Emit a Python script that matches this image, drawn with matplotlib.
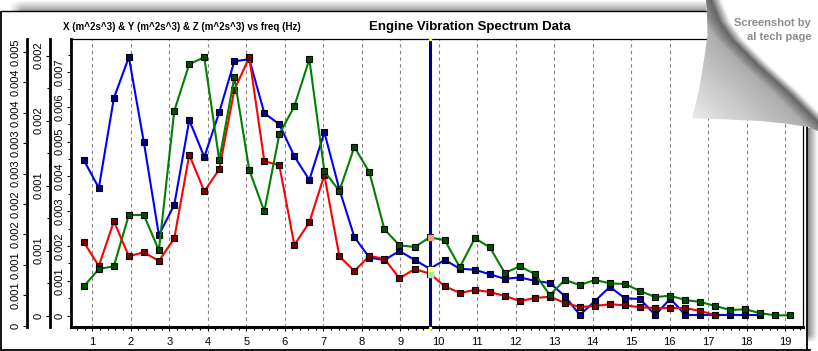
import numpy as np
import matplotlib
matplotlib.use("Agg")
import matplotlib.pyplot as plt
from matplotlib.patches import Polygon

plt.rcParams['font.family'] = ['Liberation Sans', 'DejaVu Sans']

# ---------------- data ----------------
freq = [0.78, 1.17, 1.56, 1.95, 2.34, 2.73, 3.13, 3.52, 3.91, 4.30, 4.69, 5.08,
        5.47, 5.86, 6.25, 6.64, 7.03, 7.42, 7.81, 8.20, 8.59, 8.98, 9.38, 9.77,
        10.16, 10.55, 10.94, 11.33, 11.72, 12.11, 12.50, 12.89, 13.28, 13.67,
        14.06, 14.45, 14.84, 15.23, 15.63, 16.02, 16.41, 16.80, 17.19, 17.58,
        17.97, 18.36, 18.75, 19.14]

x_amp = np.array([4.47, 3.67, 6.25, 7.43, 4.98, 2.32, 3.18, 5.62, 4.56, 5.85,
                  7.31, 7.37, 5.82, 5.50, 4.58, 3.90, 5.27, 3.63, 2.26, 1.67,
                  1.60, 1.86, 1.60, 1.35, 1.60, 1.35, 1.32, 1.19, 1.06, 1.10,
                  1.00, 0.94, 0.56, 0.02, 0.42, 0.83, 0.50, 0.48, 0.02, 0.49,
                  0.02, 0.02, 0.02, 0.02, 0.02, 0.02]) * 1e-3
y_amp = np.array([0.565, 0.382, 0.726, 0.457, 0.488, 0.421, 0.595, 1.238, 0.957,
                  1.126, 1.736, 1.988, 1.188, 1.157, 0.544, 0.718, 1.082, 0.457,
                  0.344, 0.459, 0.438, 0.288, 0.359, 0.323, 0.226, 0.175, 0.198,
                  0.182, 0.152, 0.113, 0.136, 0.146, 0.099, 0.067, 0.075, 0.088,
                  0.080, 0.065, 0.059, 0.059, 0.059, 0.036, 0.005]) * 1e-3
z_amp = np.array([0.648, 0.933, 0.977, 1.821, 1.821, 1.240, 3.531, 4.304, 4.414,
                  2.720, 4.086, 2.556, 1.882, 3.148, 3.609, 4.382, 2.539, 2.215,
                  2.939, 2.523, 1.586, 1.322, 1.294, 1.454, 1.405, 0.961, 1.438,
                  1.289, 0.867, 0.977, 0.850, 0.505, 0.752, 0.669, 0.752, 0.697,
                  0.686, 0.571, 0.472, 0.493, 0.423, 0.390, 0.324, 0.258, 0.270,
                  0.204, 0.171, 0.171]) * 1e-3

cursor_freq = 9.77
cursor_index = 23

x_ticks = list(range(1, 20))
x_ticklabels = [str(v) for v in x_ticks]

ax3_ticks = [0, 0.001, 0.002, 0.003, 0.004, 0.005, 0.006, 0.007]
ax3_labels = ['0', '0.001', '0.002', '0.003', '0.004', '0.005', '0.006', '0.007']
ax2_ticks = [0, 0.0005, 0.001, 0.0015, 0.002]
ax2_labels = ['0', '0.001', '0.001', '0.002', '0.002']
ax1_ticks = [0, 0.0005, 0.001, 0.0015, 0.002, 0.0025, 0.003, 0.0035, 0.004, 0.0045]
ax1_labels = ['0', '0.001', '0.001', '0.002', '0.002', '0.003', '0.003', '0.004',
              '0.004', '0.005']

title = "Engine Vibration Spectrum Data"
subtitle = "X (m^2s^3) & Y (m^2s^3) & Z (m^2s^3) vs freq (Hz)"
watermark = ["Screenshot by", "al tech page"]

# ---------------- layout ----------------
W, H = 818, 351
fig = plt.figure(figsize=(W / 100, H / 100), dpi=100)
fig.patch.set_facecolor('white')

L, R, T, B = 71, 802.7, 39, 327
ax = fig.add_axes([L / W, 1 - B / H, (R - L) / W, (B - T) / H])
ax.set_xlim(0.4465, 19.46)
ax.set_ylim(-0.000325, 0.00795)

ax2 = ax.twinx()
ax2.set_ylim(-0.0000869, 0.002128)
ax1 = ax.twinx()
ax1.set_ylim(-0.0000214, 0.004715)

lab_kw = dict(labelsize=8, length=3, width=0.8, pad=1.5, direction='out')

# main axis (innermost)
for s_, lw in (('left', 2.0), ('bottom', 2.2), ('top', 0.9), ('right', 0.9)):
    ax.spines[s_].set_linewidth(lw)
ax.set_yticks(ax3_ticks)
ax.set_yticklabels(ax3_labels)
ax.set_yticks(np.arange(0.0005, 0.0076, 0.001), minor=True)
ax.tick_params(axis='y', which='major', **lab_kw)
ax.tick_params(axis='y', which='minor', length=2, width=0.8)
ax.set_xticks(x_ticks)
ax.set_xticklabels(x_ticklabels)
ax.set_xticks(np.arange(0.6, 19.45, 0.2), minor=True)
ax.tick_params(axis='x', which='major', labelsize=8, length=3, width=0.8, pad=4)
ax.tick_params(axis='x', which='minor', length=2, width=0.8)
ax.xaxis.grid(True, which='major', color='#808080', linestyle=(0, (3, 3)), linewidth=0.8)

for tax, pos, ticks, labels in ((ax2, 49.5, ax2_ticks, ax2_labels),
                                 (ax1, 27.0, ax1_ticks, ax1_labels)):
    for s_ in ('right', 'top', 'bottom'):
        tax.spines[s_].set_visible(False)
    tax.spines['left'].set_visible(True)
    tax.spines['left'].set_position(('axes', (pos - L) / (R - L)))
    tax.spines['left'].set_linewidth(2.0)
    tax.yaxis.set_ticks_position('left')
    tax.yaxis.set_label_position('left')
    tax.set_yticks(ticks)
    tax.set_yticklabels(labels)
    tax.tick_params(axis='y', which='major', left=True, right=False,
                    labelleft=True, labelright=False, **lab_kw)

ax2.set_yticks(np.arange(0.00025, 0.0021, 0.0005), minor=True)
ax2.tick_params(axis='y', which='minor', left=True, right=False, length=2, width=0.8)

for a in (ax, ax1, ax2):
    for t in a.get_yticklabels():
        t.set_rotation(90)
        t.set_va('center')
        t.set_ha('right')

# series
mk = dict(marker='s', markersize=4.2, markeredgecolor='black', markeredgewidth=0.8)
ax.plot(freq[:len(x_amp)], x_amp, color='#0000ff', lw=1.5, markerfacecolor='#000080', **mk)
ax2.plot(freq[:len(y_amp)], y_amp, color='#ff0000', lw=1.5, markerfacecolor='#800000', **mk)
ax1.plot(freq[:len(z_amp)], z_amp, color='#008000', lw=1.5, markerfacecolor='#005000', **mk)

# cursor
ax1.axvline(cursor_freq, color='#000080', lw=2.2, zorder=6)
hl = dict(marker='s', markersize=3.6, linestyle='none', zorder=7)
ax1.plot([freq[cursor_index]], [x_amp[cursor_index]], transform=ax.transData,
         color='#ffff90', **hl)
ax1.plot([freq[cursor_index]], [y_amp[cursor_index]], transform=ax2.transData,
         color='#a0f0a0', **hl)
ax1.plot([freq[cursor_index]], [z_amp[cursor_index]], transform=ax1.transData,
         color='#f4a080', **hl)

# ---------------- overlay decorations ----------------
ov = fig.add_axes([0, 0, 1, 1], zorder=10)
ov.patch.set_alpha(0)
ov.axis('off')

# cursor end marks
ov.plot([429.5, 429.5], [327.5, 38.5], linestyle='none', marker='s', markersize=1.6,
        color='#ffff40', zorder=3)

# top shadow band
yy = np.linspace(0, 1, 12)[:, None]
xx = np.linspace(0, 1, 200)[None, :]
val = 1 - 0.38 * yy * np.clip((xx * 696) / 12, 0, 1)
img = np.dstack([val * np.ones_like(xx)] * 3)
ov.imshow(img, extent=(8, 706, 11, 0), aspect='auto', interpolation='bilinear', zorder=1)

# right shadow band
xx2 = np.linspace(0, 1, 12)[None, :]
yy2 = np.linspace(0, 1, 220)[:, None]
val2 = 1 - 0.45 * (1 - xx2) * np.clip((1 - yy2) * 220 / 8, 0, 1)
img2 = np.dstack([val2] * 3)
ov.imshow(img2, extent=(808, 818, 343, 128), aspect='auto', interpolation='bilinear', zorder=1)

# panel border
ov.plot([1, 1], [11, 349.5], color='black', lw=1.3, zorder=2, solid_capstyle='butt')
ov.plot([1, 708], [11, 11], color='black', lw=1.0, zorder=2)
ov.plot([0, 810], [349.5, 349.5], color='black', lw=1.3, zorder=2)
ov.plot([807, 807], [126, 349.5], color='black', lw=1.3, zorder=2)

# page curl (curved fold line)
x0, x1, y0, y1 = 684, 818, 0, 136
gx, gy = np.meshgrid(np.arange(x0, x1, 0.5) + 0.25, np.arange(y0, y1, 0.5) + 0.25)
fold_y = [0, 22, 40, 65, 92, 122, 140]
fold_x = [711, 720, 733, 758, 788, 818, 836]
xf = np.interp(gy, fold_y, fold_x)
s = (gx - xf) * 0.75
sp = [-95, -12, -3, 0, 8, 200]
cp = [0.93, 0.68, 0.46, 0.40, 1.0, 1.0]
g = np.interp(s, sp, cp)
curl_img = np.dstack([g, g, g])
curl_poly = Polygon([(706, 0), (707, 15), (707.5, 35), (704, 60), (699, 90),
                     (692, 118), (727, 119.5), (760, 121), (785, 123.5),
                     (808, 127), (818, 131), (818, 0)], closed=True,
                    facecolor='none', edgecolor='none')
ov.add_patch(curl_poly)
im = ov.imshow(curl_img, extent=(x0, x1, y1, y0), aspect='auto',
               interpolation='bilinear', zorder=5)
im.set_clip_path(curl_poly)

ov.text(811, 26.5, watermark[0], ha='right', va='baseline', color='#8c8c8c',
        fontsize=8, fontweight='bold', zorder=6)
ov.text(811.5, 40.5, watermark[1], ha='right', va='baseline', color='#8c8c8c',
        fontsize=8, fontweight='bold', zorder=6)

# titles
ov.text(63, 29.5, subtitle, ha='left', va='baseline', fontsize=7, fontweight='bold',
        zorder=6)
ov.text(470, 30, title, ha='center', va='baseline', fontsize=9.5, fontweight='bold',
        zorder=6)

ov.set_xlim(0, W)
ov.set_ylim(H, 0)

fig.savefig('out.png', dpi=100)
